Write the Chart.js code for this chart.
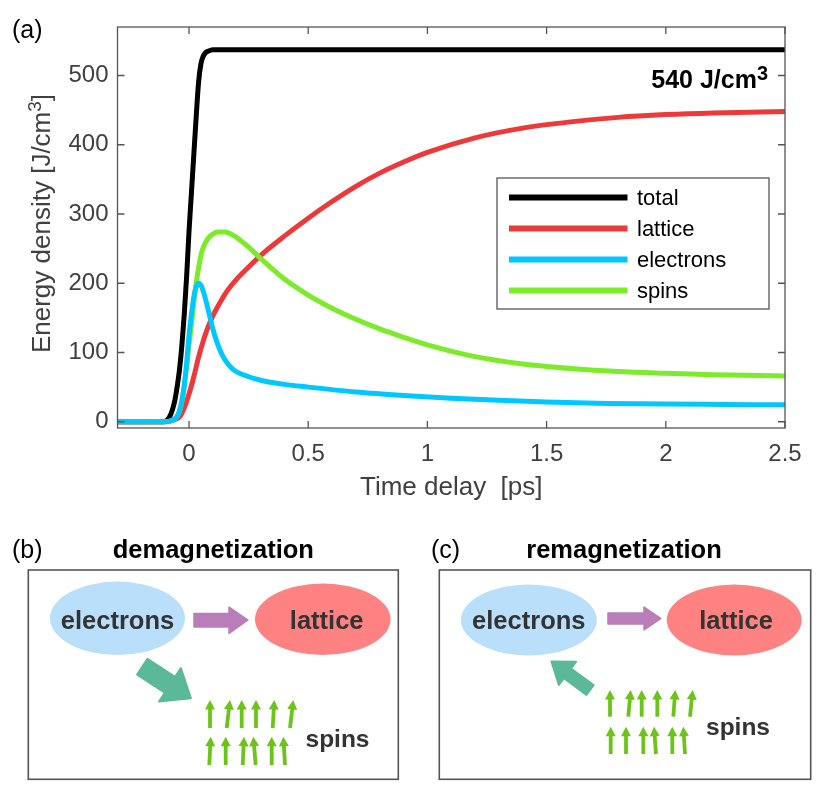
<!DOCTYPE html>
<html>
<head>
<meta charset="utf-8">
<script src="https://cdn.jsdelivr.net/npm/chart.js@4.4.1/dist/chart.umd.min.js"></script>
<style>
html,body{margin:0;padding:0;background:#fff;}
#wrap{position:relative;width:830px;height:809px;overflow:hidden;}
#c{position:absolute;left:0;top:0;width:830px;height:510px;}
#diag{position:absolute;left:0;top:0;}
</style>
</head>
<body>
<div id="wrap">
<canvas id="c" width="830" height="510"></canvas>
<svg id="diag" width="830" height="809" viewBox="0 0 830 809" font-family="'Liberation Sans', Arial, sans-serif">
  <text x="12" y="38" font-size="25" fill="#000">(a)</text>
  <text x="12" y="558" font-size="25" fill="#000">(b)</text>
  <text x="431" y="558" font-size="25" fill="#000">(c)</text>
  <text x="213.3" y="558" font-size="25.5" font-weight="bold" fill="#000" text-anchor="middle">demagnetization</text>
  <text x="624" y="558" font-size="25.5" font-weight="bold" fill="#000" text-anchor="middle">remagnetization</text>
  <rect x="28.3" y="570" width="370" height="209.3" fill="none" stroke="#555" stroke-width="1.6"/>
  <rect x="439.3" y="570" width="371.4" height="209.3" fill="none" stroke="#555" stroke-width="1.6"/>
  <!-- panel b -->
  <ellipse cx="117.5" cy="618.3" rx="67.5" ry="36.7" fill="#B9DFFB"/>
  <ellipse cx="322.8" cy="619.2" rx="67.8" ry="35.8" fill="#FF8282"/>
  <text x="117.5" y="628.5" font-size="25.5" font-weight="bold" fill="#333" text-anchor="middle">electrons</text>
  <text x="326.7" y="628.5" font-size="25.5" font-weight="bold" fill="#333" text-anchor="middle">lattice</text>
  <path d="M194 613.5 L229 613.5 L229 607 L248 620 L229 633.5 L229 627 L194 627 Z" fill="#B97DB8" stroke="#B97DB8" stroke-width="1.5" stroke-linejoin="round"/>
  <path transform="translate(142.3 666.7) rotate(33.1)" d="M0 -9.5 L33 -9.5 L33 -20 L58 0 L33 20 L33 9.5 L0 9.5 Z" fill="#5BB99A" stroke="#5BB99A" stroke-width="2" stroke-linejoin="round"/>
  <text x="337.5" y="747" font-size="24.5" font-weight="bold" fill="#333" text-anchor="middle">spins</text>
  <!-- panel c -->
  <ellipse cx="528.8" cy="620" rx="68" ry="35.5" fill="#B9DFFB"/>
  <ellipse cx="734.2" cy="620" rx="67.5" ry="35.5" fill="#FF8282"/>
  <text x="528.8" y="629" font-size="25.5" font-weight="bold" fill="#333" text-anchor="middle">electrons</text>
  <text x="736" y="629" font-size="25.5" font-weight="bold" fill="#333" text-anchor="middle">lattice</text>
  <path d="M608 613 L644 613 L644 607 L661 618.5 L644 630 L644 624 L608 624 Z" fill="#B97DB8" stroke="#B97DB8" stroke-width="1.5" stroke-linejoin="round"/>
  <path transform="translate(590 690) rotate(-143.5)" d="M0 -6 L28 -6 L28 -14.5 L48 0 L28 14.5 L28 6 L0 6 Z" fill="#5BB99A" stroke="#5BB99A" stroke-width="2" stroke-linejoin="round"/>
  <text x="738" y="735" font-size="24.5" font-weight="bold" fill="#333" text-anchor="middle">spins</text>
  <g id="spinArrows"></g>
</svg>
</div>
<script>
// ---------- data ----------
const seriesLabels = ['total', 'lattice', 'electrons', 'spins'];
const xTicks = [0, 0.5, 1, 1.5, 2, 2.5];
const yTicks = [0, 100, 200, 300, 400, 500];

const tTotal = [-0.3, -0.12, -0.1, -0.09, -0.08, -0.07, -0.06, -0.05, -0.04, -0.03, -0.02, -0.01, 0, 0.01, 0.02, 0.03, 0.04, 0.05, 0.06, 0.07, 0.08, 0.1, 0.5, 1.5, 2.5];
const total  = [0, 0, 1, 3, 8, 17, 30, 50, 75, 110, 155, 210, 275, 330, 385, 440, 490, 517, 528, 533, 535, 537, 537, 537, 537];

const tLattice = [-0.3, -0.1, -0.08, -0.06, -0.04, -0.02, 0, 0.02, 0.04, 0.06, 0.08, 0.1, 0.12, 0.14, 0.16, 0.2, 0.25, 0.3, 0.4, 0.5, 0.6, 0.7, 0.8, 0.9, 1.0, 1.2, 1.4, 1.6, 1.8, 2.0, 2.2, 2.5];
const lattice  = [0, 0, 1, 3, 7, 20, 40, 65, 93, 117, 137, 153, 166, 178, 189, 206, 223.5, 240, 268, 294, 318, 340, 359, 375, 389, 410, 424, 433, 439.5, 443.5, 446, 448];

const tElectrons = [-0.3, -0.1, -0.08, -0.06, -0.05, -0.04, -0.03, -0.02, -0.01, 0, 0.01, 0.02, 0.03, 0.04, 0.05, 0.06, 0.07, 0.08, 0.09, 0.1, 0.12, 0.14, 0.16, 0.18, 0.2, 0.25, 0.3, 0.4, 0.5, 0.7, 0.9, 1.1, 1.3, 1.5, 1.75, 2.0, 2.25, 2.5];
const electrons  = [0, 0, 1, 4, 8, 16, 30, 52, 85, 125, 155, 180, 195, 200, 197, 188, 176, 162, 148, 134, 112, 96, 85, 77, 72, 65, 60, 54, 50, 43, 38, 34, 31, 28.5, 26.5, 25.5, 25, 24.5];

const tSpins = [-0.3, -0.1, -0.08, -0.06, -0.05, -0.04, -0.03, -0.02, -0.01, 0, 0.01, 0.02, 0.03, 0.04, 0.05, 0.06, 0.08, 0.1, 0.12, 0.15, 0.2, 0.25, 0.3, 0.4, 0.5, 0.6, 0.7, 0.8, 0.9, 1.0, 1.2, 1.4, 1.6, 1.8, 2.0, 2.2, 2.5];
const spins  = [0, 0, 1, 4, 8, 15, 30, 52, 80, 110, 140, 172, 200, 222, 240, 252, 265, 271, 274, 274, 266, 252, 236, 206, 183, 164, 148, 134, 122, 111, 94, 83.5, 77, 72.5, 70, 68, 66];

// ---------- styling ----------
const FONT = "'Liberation Sans', Arial, sans-serif";
const TXT = '#404040';
const seriesColors = ['#000000', '#EC3A3A', '#00C8FF', '#7CEB2A'];
const drawOrder = [4, 3, 1, 2]; // electrons on top, then spins
const xs = [tTotal, tLattice, tElectrons, tSpins];
const ys = [total, lattice, electrons, spins];

const datasets = seriesLabels.map((lab, k) => ({
  label: lab,
  data: xs[k].map((t, i) => ({x: t, y: ys[k][i]})),
  borderColor: seriesColors[k],
  backgroundColor: seriesColors[k],
  borderWidth: 5,
  pointRadius: 0,
  showLine: true,
  fill: false,
  cubicInterpolationMode: 'monotone',
  order: drawOrder[k]
}));

function supText(ctx, base, sup, x, y, size, supSize, raise, weight) {
  ctx.font = weight + ' ' + size + 'px ' + FONT;
  const w1 = ctx.measureText(base).width;
  ctx.fillText(base, x, y);
  ctx.font = weight + ' ' + supSize + 'px ' + FONT;
  ctx.fillText(sup, x + w1, y - raise);
  return w1 + ctx.measureText(sup).width;
}

const framePlugin = {
  id: 'frame',
  afterDatasetsDraw(chart) {
    const {ctx, chartArea: a, scales: {x, y}} = chart;
    ctx.save();
    ctx.strokeStyle = '#555';
    ctx.lineWidth = 1.3;
    ctx.strokeRect(a.left, a.top, a.right - a.left, a.bottom - a.top);
    ctx.beginPath();
    xTicks.forEach(v => {
      const p = x.getPixelForValue(v);
      ctx.moveTo(p, a.bottom); ctx.lineTo(p, a.bottom - 7);
      ctx.moveTo(p, a.top); ctx.lineTo(p, a.top + 7);
    });
    yTicks.forEach(v => {
      const p = y.getPixelForValue(v);
      ctx.moveTo(a.left, p); ctx.lineTo(a.left + 7, p);
      ctx.moveTo(a.right, p); ctx.lineTo(a.right - 7, p);
    });
    ctx.stroke();

    // annotation "540 J/cm3"
    ctx.fillStyle = '#000';
    ctx.textBaseline = 'alphabetic';
    ctx.textAlign = 'left';
    ctx.font = 'bold 25px ' + FONT;
    const wA = ctx.measureText('540 J/cm').width;
    ctx.font = 'bold 20px ' + FONT;
    const wB = ctx.measureText('3').width;
    supText(ctx, '540 J/cm', '3', a.right - 17 - wA - wB, a.top + 61, 25, 20, 8, 'bold');

    // y-axis title with superscript
    ctx.save();
    ctx.fillStyle = TXT;
    ctx.translate(50, (a.top + a.bottom) / 2 - 4);
    ctx.rotate(-Math.PI / 2);
    ctx.font = '26px ' + FONT;
    const t1 = 'Energy density [J/cm', t3 = ']';
    const w1 = ctx.measureText(t1).width, w3 = ctx.measureText(t3).width;
    ctx.font = '19px ' + FONT;
    const w2 = ctx.measureText('3').width;
    const x0 = -(w1 + w2 + w3) / 2;
    supText(ctx, t1, '3', x0, 0, 26, 19, 9, 'normal');
    ctx.font = '26px ' + FONT;
    ctx.fillText(t3, x0 + w1 + w2, 0);
    ctx.restore();

    // legend
    const lx = a.left + 379.5, ly = a.top + 151, lw = 272, lh = 131;
    ctx.fillStyle = '#fff';
    ctx.fillRect(lx, ly, lw, lh);
    ctx.strokeStyle = '#555';
    ctx.lineWidth = 1.3;
    ctx.strokeRect(lx, ly, lw, lh);
    ctx.font = '22px ' + FONT;
    ctx.textAlign = 'left';
    ctx.textBaseline = 'middle';
    seriesLabels.forEach((lab, k) => {
      const yy = ly + 19.5 + k * 31;
      ctx.strokeStyle = seriesColors[k];
      ctx.lineWidth = 6;
      ctx.beginPath();
      ctx.moveTo(lx + 12, yy); ctx.lineTo(lx + 130.5, yy);
      ctx.stroke();
      ctx.fillStyle = '#000';
      ctx.fillText(lab, lx + 140, yy + 1);
    });
    ctx.restore();
  }
};

new Chart(document.getElementById('c'), {
  type: 'scatter',
  data: {datasets},
  options: {
    responsive: false,
    animation: false,
    events: [],
    devicePixelRatio: 1,
    layout: {padding: {top: 27, right: 45, left: 0, bottom: 0}},
    plugins: {legend: {display: false}, tooltip: {enabled: false}},
    scales: {
      x: {
        type: 'linear', min: -0.3, max: 2.5,
        afterBuildTicks: s => { s.ticks = xTicks.map(v => ({value: v})); },
        afterFit: s => { s.height = 82; },
        grid: {display: false, drawTicks: false},
        border: {display: false},
        ticks: {font: {family: FONT, size: 24}, color: TXT, padding: 12, maxRotation: 0, callback: v => String(v)},
        title: {display: true, text: 'Time delay  [ps]', font: {family: FONT, size: 26}, color: TXT, padding: {top: 0, bottom: 7}}
      },
      y: {
        type: 'linear', min: -9, max: 570,
        afterBuildTicks: s => { s.ticks = yTicks.map(v => ({value: v})); },
        afterFit: s => { s.width = 117.5; },
        grid: {display: false, drawTicks: false},
        border: {display: false},
        ticks: {font: {family: FONT, size: 24}, color: TXT, padding: 9, callback: v => String(v)},
        title: {display: false}
      }
    }
  },
  plugins: [framePlugin]
});

// spin arrows for the diagrams: [baseX, baseY, tipX, tipY]
const spinGeom = [
  [210,728,210,700],[226.7,728,230,700],[241.7,728,241.7,700],[256,728,256,700],[272.7,728,274.3,700],[290,728,293.3,700],
  [209.3,765,210.7,736.7],[225.7,765,225.7,736.7],[242.7,765,244,736.7],[255.7,765,253.3,736.7],[271.7,765,271.7,736.7],[285,765,283.3,736.7],
  [610,716.7,610,690],[628.3,716.7,630.7,690],[641.7,716.7,641.7,690],[657.3,716.7,657.3,690],[673.3,716.7,675.3,690],[690,716.7,692.7,690],
  [610.7,754,610.7,726.7],[626,754,626,726.7],[643.3,754,643.3,726.7],[656,754,654,726.7],[672.3,754,672.3,726.7],[685,754,683.3,726.7]
];
const g = document.getElementById('spinArrows');
const NS = 'http://www.w3.org/2000/svg';
spinGeom.forEach(([bx, by, tx, ty]) => {
  const dx = tx - bx, dy = ty - by, L = Math.hypot(dx, dy);
  const ux = dx / L, uy = dy / L, nx = -uy, ny = ux;
  const hl = 9.5, hw = 5;
  const hx = tx - ux * hl, hy = ty - uy * hl;
  const line = document.createElementNS(NS, 'line');
  line.setAttribute('x1', bx); line.setAttribute('y1', by);
  line.setAttribute('x2', hx + ux); line.setAttribute('y2', hy + uy);
  line.setAttribute('stroke', '#6CC41A'); line.setAttribute('stroke-width', '3.8');
  g.appendChild(line);
  const tri = document.createElementNS(NS, 'polygon');
  tri.setAttribute('points', `${tx},${ty} ${hx + nx * hw},${hy + ny * hw} ${hx - nx * hw},${hy - ny * hw}`);
  tri.setAttribute('fill', '#6CC41A');
  g.appendChild(tri);
});
</script>
</body>
</html>
